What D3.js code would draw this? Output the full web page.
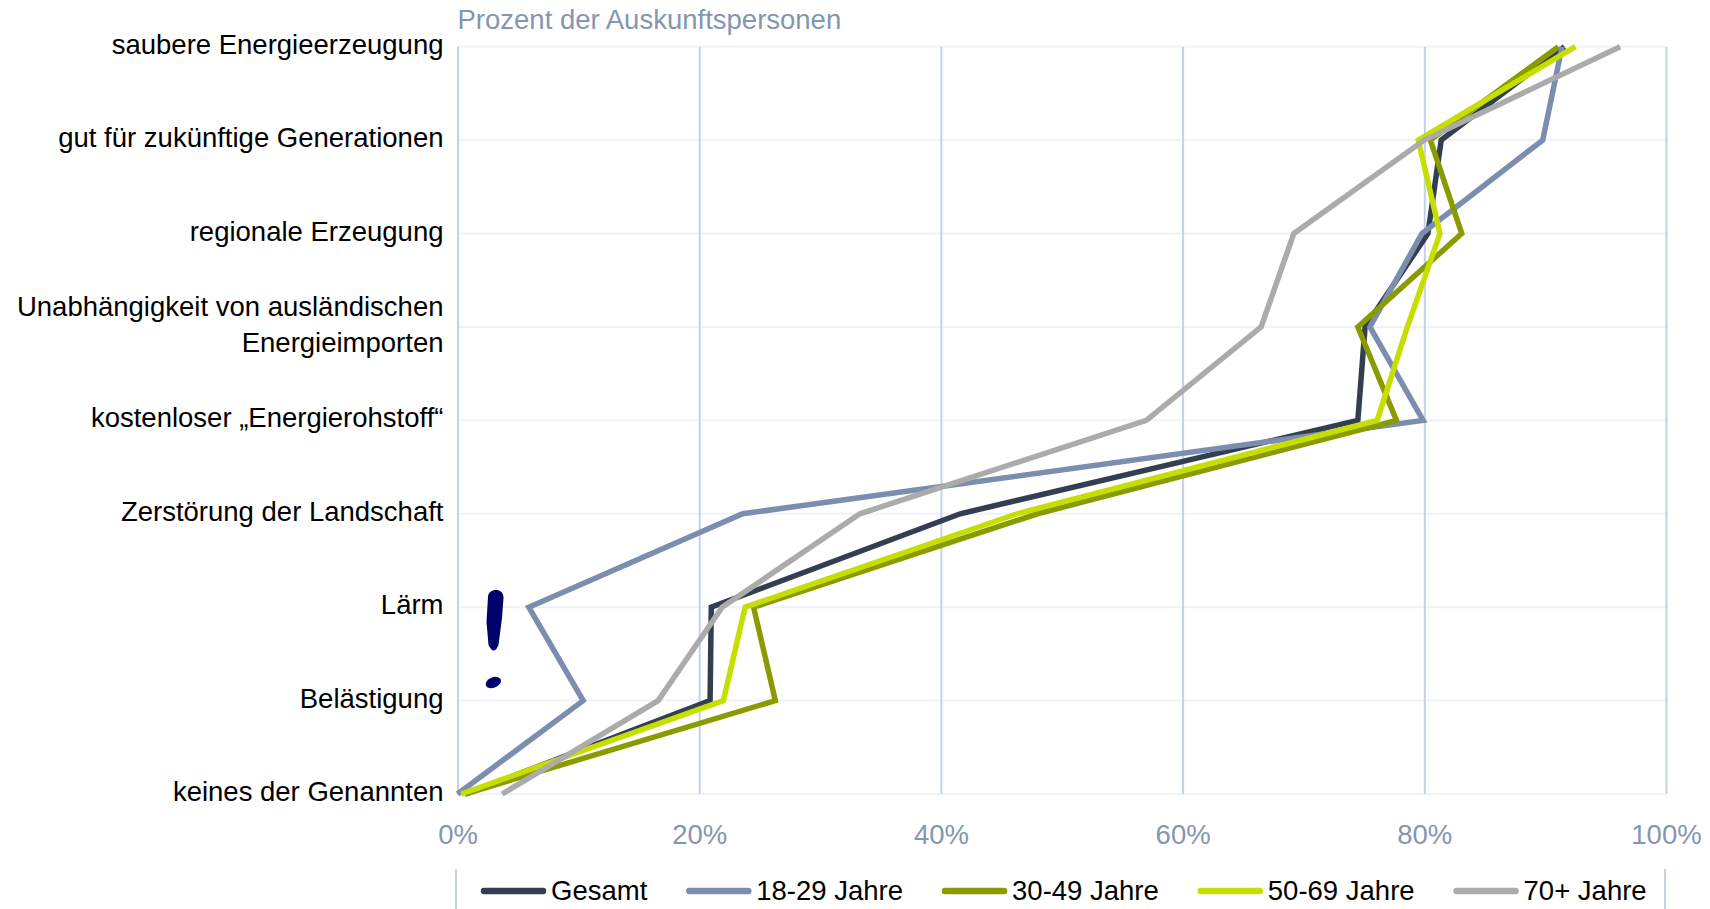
<!DOCTYPE html>
<html>
<head>
<meta charset="utf-8">
<script src="https://cdn.jsdelivr.net/npm/d3@7"></script>
<style>
  html, body { margin: 0; padding: 0; background: #ffffff; }
  svg { display: block; }
  text { font-family: "Liberation Sans", Arial, sans-serif; }
</style>
</head>
<body>
<svg id="chart" width="1710" height="909"></svg>
<script>
// ---------- data ----------
const categories = [
  "saubere Energieerzeugung",
  "gut für zukünftige Generationen",
  "regionale Erzeugung",
  "Unabhängigkeit von ausländischen\nEnergieimporten",
  "kostenloser „Energierohstoff“",
  "Zerstörung der Landschaft",
  "Lärm",
  "Belästigung",
  "keines der Genannten"
];
const seriesNames = ["Gesamt", "18-29 Jahre", "30-49 Jahre", "50-69 Jahre", "70+ Jahre"];
const gesamt    = [91.6, 81.4, 80.3, 75.1, 74.5, 41.6, 21.0, 20.9, 0.7];
const jahre1829 = [91.4, 89.8, 79.8, 75.5, 79.9, 23.6, 5.9, 10.4, 0.0];
const jahre3049 = [91.1, 80.5, 83.1, 74.5, 77.7, 48.0, 24.5, 26.3, 0.6];
const jahre5069 = [92.5, 79.5, 81.3, 78.6, 76.1, 46.3, 23.8, 22.0, 0.3];
const jahre70   = [96.2, 80.0, 69.2, 66.5, 57.0, 33.3, 21.9, 16.6, 3.7];
const xTicks = [0, 20, 40, 60, 80, 100];
const axisTitle = "Prozent der Auskunftspersonen";

const seriesValues = [gesamt, jahre1829, jahre3049, jahre5069, jahre70];
const colors = ["#333f50", "#7b8eb0", "#8a9b00", "#c6df00", "#ababab"];

// ---------- layout ----------
const svg = d3.select("#chart");
const plotLeft = 457.5, plotRight = 1666, plotTop = 46.7, plotBottom = 794;
const fontSize = 27.5;

const x = d3.scaleLinear().domain([0, 100]).range([plotLeft, plotRight]);
const y = d3.scalePoint().domain(categories).range([plotTop, plotBottom]);

// horizontal gridlines
svg.append("g")
  .selectAll("line")
  .data(categories)
  .join("line")
  .attr("x1", plotLeft).attr("x2", plotRight)
  .attr("y1", d => y(d)).attr("y2", d => y(d))
  .attr("stroke", "#eff2fa").attr("stroke-width", 2);

// vertical gridlines + x axis
const xAxis = svg.append("g")
  .attr("transform", `translate(0,${plotBottom})`)
  .call(d3.axisBottom(x).tickValues(xTicks).tickFormat(d => d + "%").tickSize(-(plotBottom - plotTop)).tickPadding(0));
xAxis.select(".domain").remove();
xAxis.selectAll(".tick line").attr("stroke", "#c5d1e8").attr("stroke-width", 2);
xAxis.selectAll(".tick text")
  .attr("y", 50).attr("dy", 0)
  .attr("fill", "#8496b0")
  .style("font-size", fontSize + "px")
  .attr("text-anchor", "middle");

// y axis labels
const yAxis = svg.append("g")
  .attr("transform", `translate(${plotLeft},0)`)
  .call(d3.axisLeft(y).tickSize(0).tickPadding(14));
yAxis.select(".domain").remove();
yAxis.selectAll(".tick text")
  .attr("fill", "#000000")
  .style("font-size", fontSize + "px")
  .each(function(d) {
    const t = d3.select(this);
    const lines = d.split("\n");
    t.text(null).attr("dy", null);
    const lh = 35.5;
    const start = -((lines.length - 1) * lh) / 2;
    lines.forEach((ln, i) => {
      t.append("tspan")
        .attr("x", -14)
        .attr("y", start + i * lh - 3)
        .attr("dy", "0.35em")
        .text(ln);
    });
  });

// axis title
svg.append("text")
  .attr("x", plotLeft)
  .attr("y", 29)
  .attr("fill", "#8496b0")
  .style("font-size", fontSize + "px")
  .text(axisTitle);

// lines
const line = d3.line()
  .x(d => x(d.v))
  .y(d => y(d.c));

svg.append("g")
  .selectAll("path")
  .data(seriesValues.map((vals, i) => ({ name: seriesNames[i], color: colors[i], pts: vals.map((v, j) => ({ v, c: categories[j] })) })))
  .join("path")
  .attr("d", d => line(d.pts))
  .attr("fill", "none")
  .attr("stroke", d => d.color)
  .attr("stroke-width", 5.5)
  .attr("stroke-linejoin", "miter")
  .attr("stroke-miterlimit", 10);

// exclamation mark annotation
const excl = svg.append("g").attr("fill", "#00006b");
excl.append("path")
  .attr("d", "M488 597 C488 588, 504 587, 503.5 598 L502 618 L498.5 645 Q494 656 488.5 645 L486.5 622 Z");
excl.append("ellipse")
  .attr("cx", 493.3).attr("cy", 682.5).attr("rx", 8).attr("ry", 5.2)
  .attr("transform", "rotate(-22 493.3 682.5)");

// legend
const legendY = 891;
svg.append("line").attr("x1", 456).attr("x2", 456).attr("y1", 869).attr("y2", 909)
  .attr("stroke", "#c5d1e8").attr("stroke-width", 2);
svg.append("line").attr("x1", 1665).attr("x2", 1665).attr("y1", 869).attr("y2", 909)
  .attr("stroke", "#c5d1e8").attr("stroke-width", 2);

const legend = svg.append("g");
let lx = 484;
seriesNames.forEach((name, i) => {
  const g = legend.append("g");
  g.append("line")
    .attr("x1", lx).attr("x2", lx + 59)
    .attr("y1", legendY).attr("y2", legendY)
    .attr("stroke", colors[i]).attr("stroke-width", 6.5)
    .attr("stroke-linecap", "round");
  const t = g.append("text")
    .attr("x", lx + 67)
    .attr("y", legendY + 9)
    .attr("fill", "#000000")
    .style("font-size", fontSize + "px")
    .text(name);
  lx = lx + 67 + t.node().getComputedTextLength() + 42;
});
</script>
</body>
</html>
